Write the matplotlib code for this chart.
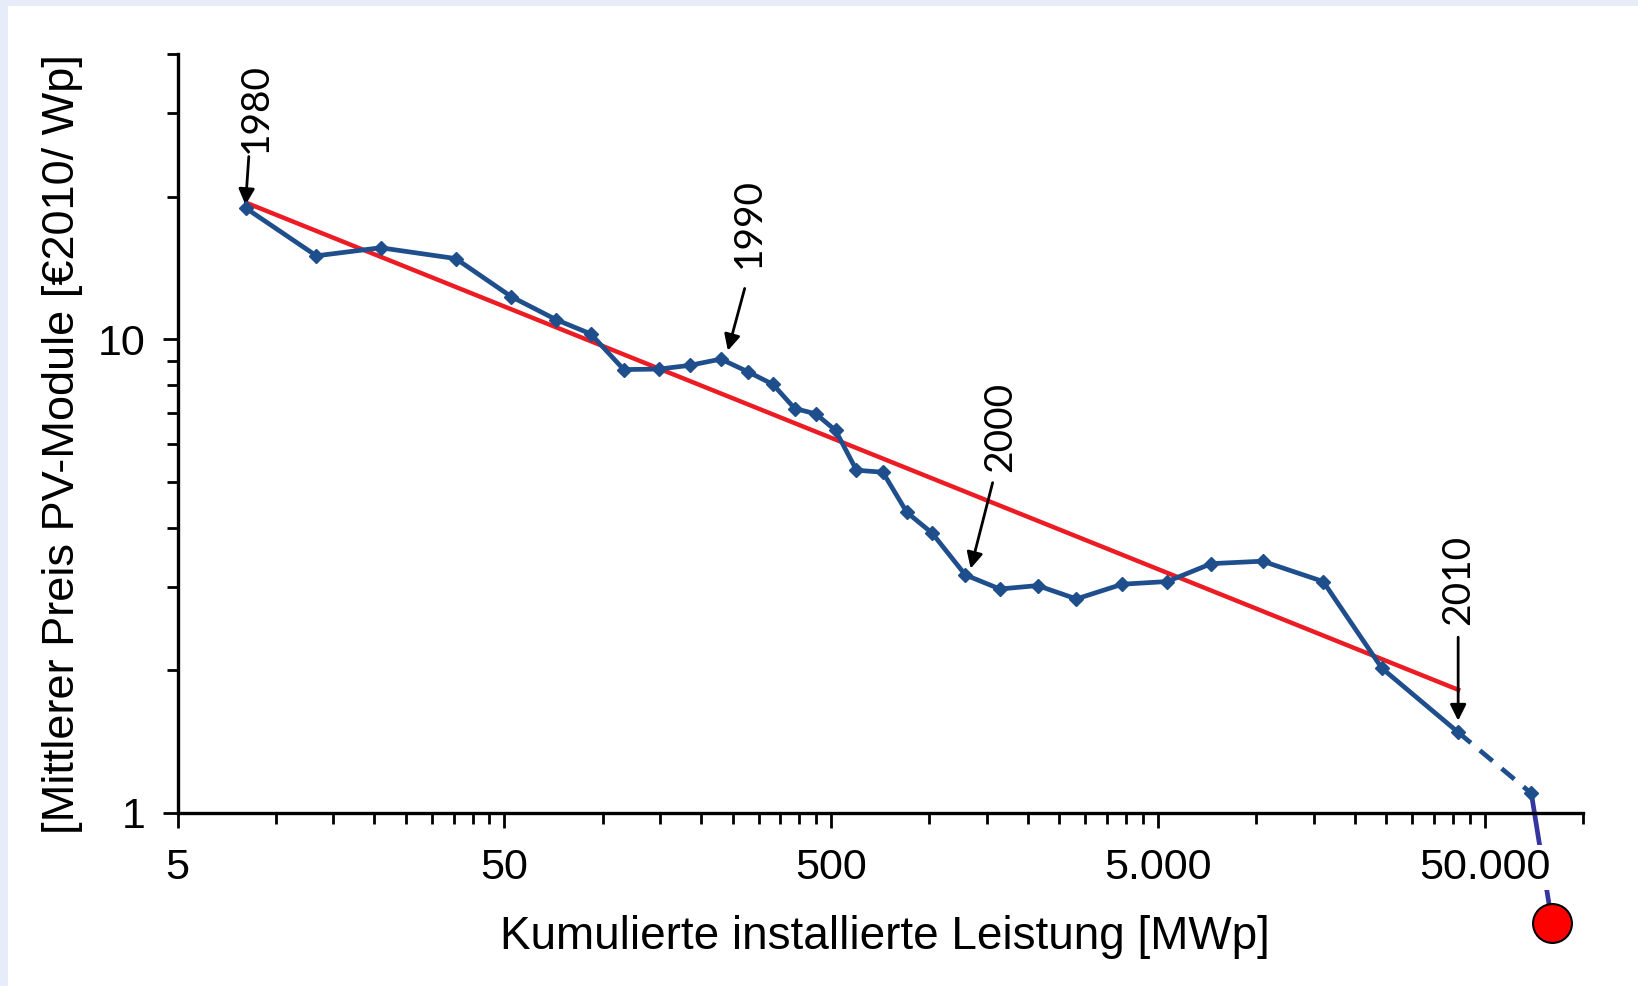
import numpy as np
import matplotlib
matplotlib.use("Agg")
import matplotlib.pyplot as plt
from matplotlib.patches import Rectangle
from matplotlib.ticker import FixedLocator, NullFormatter

# Daten
leistung = [8.1, 13.3, 20.9, 35.5, 52.5, 72, 92, 116, 149, 185, 230, 278, 332,
            387, 449, 516, 598, 720, 853, 1018, 1288, 1643, 2143, 2817, 3891,
            5345, 7290, 10460, 16030, 24260, 41500]
preis = [18.9, 15.0, 15.6, 14.8, 12.3, 11.0, 10.26, 8.63, 8.65, 8.81, 9.08,
         8.54, 8.03, 7.14, 6.96, 6.42, 5.29, 5.24, 4.31, 3.90, 3.18, 2.97, 3.02,
         2.83, 3.04, 3.08, 3.36, 3.40, 3.08, 2.02, 1.48]

# Prognose (gestrichelt) und Punkt unter der Achse
prognose_x = [41500, 69500]
prognose_y = [1.48, 1.10]
punkt_x = [69500, 80450]
punkt_y = [1.10, 0.585]

# Trendlinie
trend_x = [8.13, 41500]
trend_y = [19.4, 1.82]

# Jahresmarken: Text, Pfeilanfang, Pfeilspitze
jahre = ["1980", "1990", "2000", "2010"]
jahr_text = [(8.70, 30.8), (280, 17.6), (1643, 6.52), (41500, 3.11)]
pfeil_von = [(8.26, 24.3), (272, 12.8), (1561, 4.98), (41500, 2.35)]
pfeil_bis = [(8.07, 19.2), (241.6, 9.46), (1337, 3.28), (41500, 1.566)]

x_major = [5, 50, 500, 5000, 50000]
x_labels = ["5", "50", "500", "5.000", "50.000"]
y_major = [1, 10]
y_labels = ["1", "10"]

BLAU = "#1f4e8c"
ROT = "#ec1c24"

plt.rcParams['font.family'] = ['Liberation Sans', 'DejaVu Sans']

fig = plt.figure(figsize=(16.38, 9.86), dpi=100)
fig.patch.set_facecolor("#e6edf8")
fig.add_artist(Rectangle((8 / 1638, 0), 1, 1 - 6 / 986, transform=fig.transFigure,
                         facecolor="white", edgecolor="none", zorder=-10))

ax = fig.add_axes([0.1084, 0.1755, 0.858, 0.7697])
ax.set_facecolor("none")
ax.set_xscale("log")
ax.set_yscale("log")
ax.set_xlim(5, 100000)
ax.set_ylim(1, 40)

ax.plot(trend_x, trend_y, color=ROT, lw=3.2, zorder=3)
ax.plot(leistung, preis, color=BLAU, lw=3.4, marker="D", ms=7.5, zorder=4)
ax.plot(prognose_x, prognose_y, color=BLAU, lw=3.4, ls=(0, (3.5, 2.5)), zorder=4)
ax.plot(prognose_x[1:], prognose_y[1:], color=BLAU, marker="D", ms=7.5, zorder=4)
ax.plot(punkt_x, punkt_y, color="#3535a0", lw=3.4, zorder=1, clip_on=False)
ax.plot(punkt_x[1:], punkt_y[1:], marker="o", ms=28, color="#ff0000",
        mec="black", mew=1.5, ls="none", clip_on=False, zorder=6)

for j, t, a, b in zip(jahre, jahr_text, pfeil_von, pfeil_bis):
    ax.text(t[0], t[1], j, rotation=90, ha="center", va="center",
            fontsize=28, family=["Lato", "DejaVu Sans"], color="black")
    ax.annotate("", xy=b, xytext=a,
                arrowprops=dict(arrowstyle="-|>", color="black", lw=2,
                                mutation_scale=24, shrinkA=0, shrinkB=0))

# Achsen
for s in ["top", "right"]:
    ax.spines[s].set_visible(False)
for s in ["left", "bottom"]:
    ax.spines[s].set_linewidth(2.4)

x_minor = [5 * 10 ** k * n for k in range(4) for n in range(2, 10)] + [100000]
y_minor = [2, 3, 4, 5, 6, 7, 8, 9, 20, 30, 40]
ax.xaxis.set_major_locator(FixedLocator(x_major))
ax.xaxis.set_minor_locator(FixedLocator(x_minor))
ax.xaxis.set_minor_formatter(NullFormatter())
ax.set_xticks(x_major, x_labels)
ax.yaxis.set_major_locator(FixedLocator(y_major))
ax.yaxis.set_minor_locator(FixedLocator(y_minor))
ax.yaxis.set_minor_formatter(NullFormatter())
ax.set_yticks(y_major, y_labels)

ax.tick_params(which="major", length=11, width=2, labelsize=31, direction="out")
ax.tick_params(axis="x", which="major", pad=14)
ax.tick_params(axis="y", which="major", pad=12)
ax.tick_params(which="minor", length=8, width=2, direction="out")

ax.xaxis.get_ticklabels()[-1].set_bbox(dict(facecolor="white", edgecolor="none", pad=2))

ax.set_xlabel("Kumulierte installierte Leistung [MWp]", fontsize=33, va="center")
ax.xaxis.set_label_coords(0.503, -0.163)
ax.set_ylabel("[Mittlerer Preis PV-Module [€2010/ Wp]", fontsize=32.5, va="center")
ax.yaxis.set_label_coords(-0.0818, 0.486)

fig.savefig("out.png", dpi=100, facecolor=fig.get_facecolor())
